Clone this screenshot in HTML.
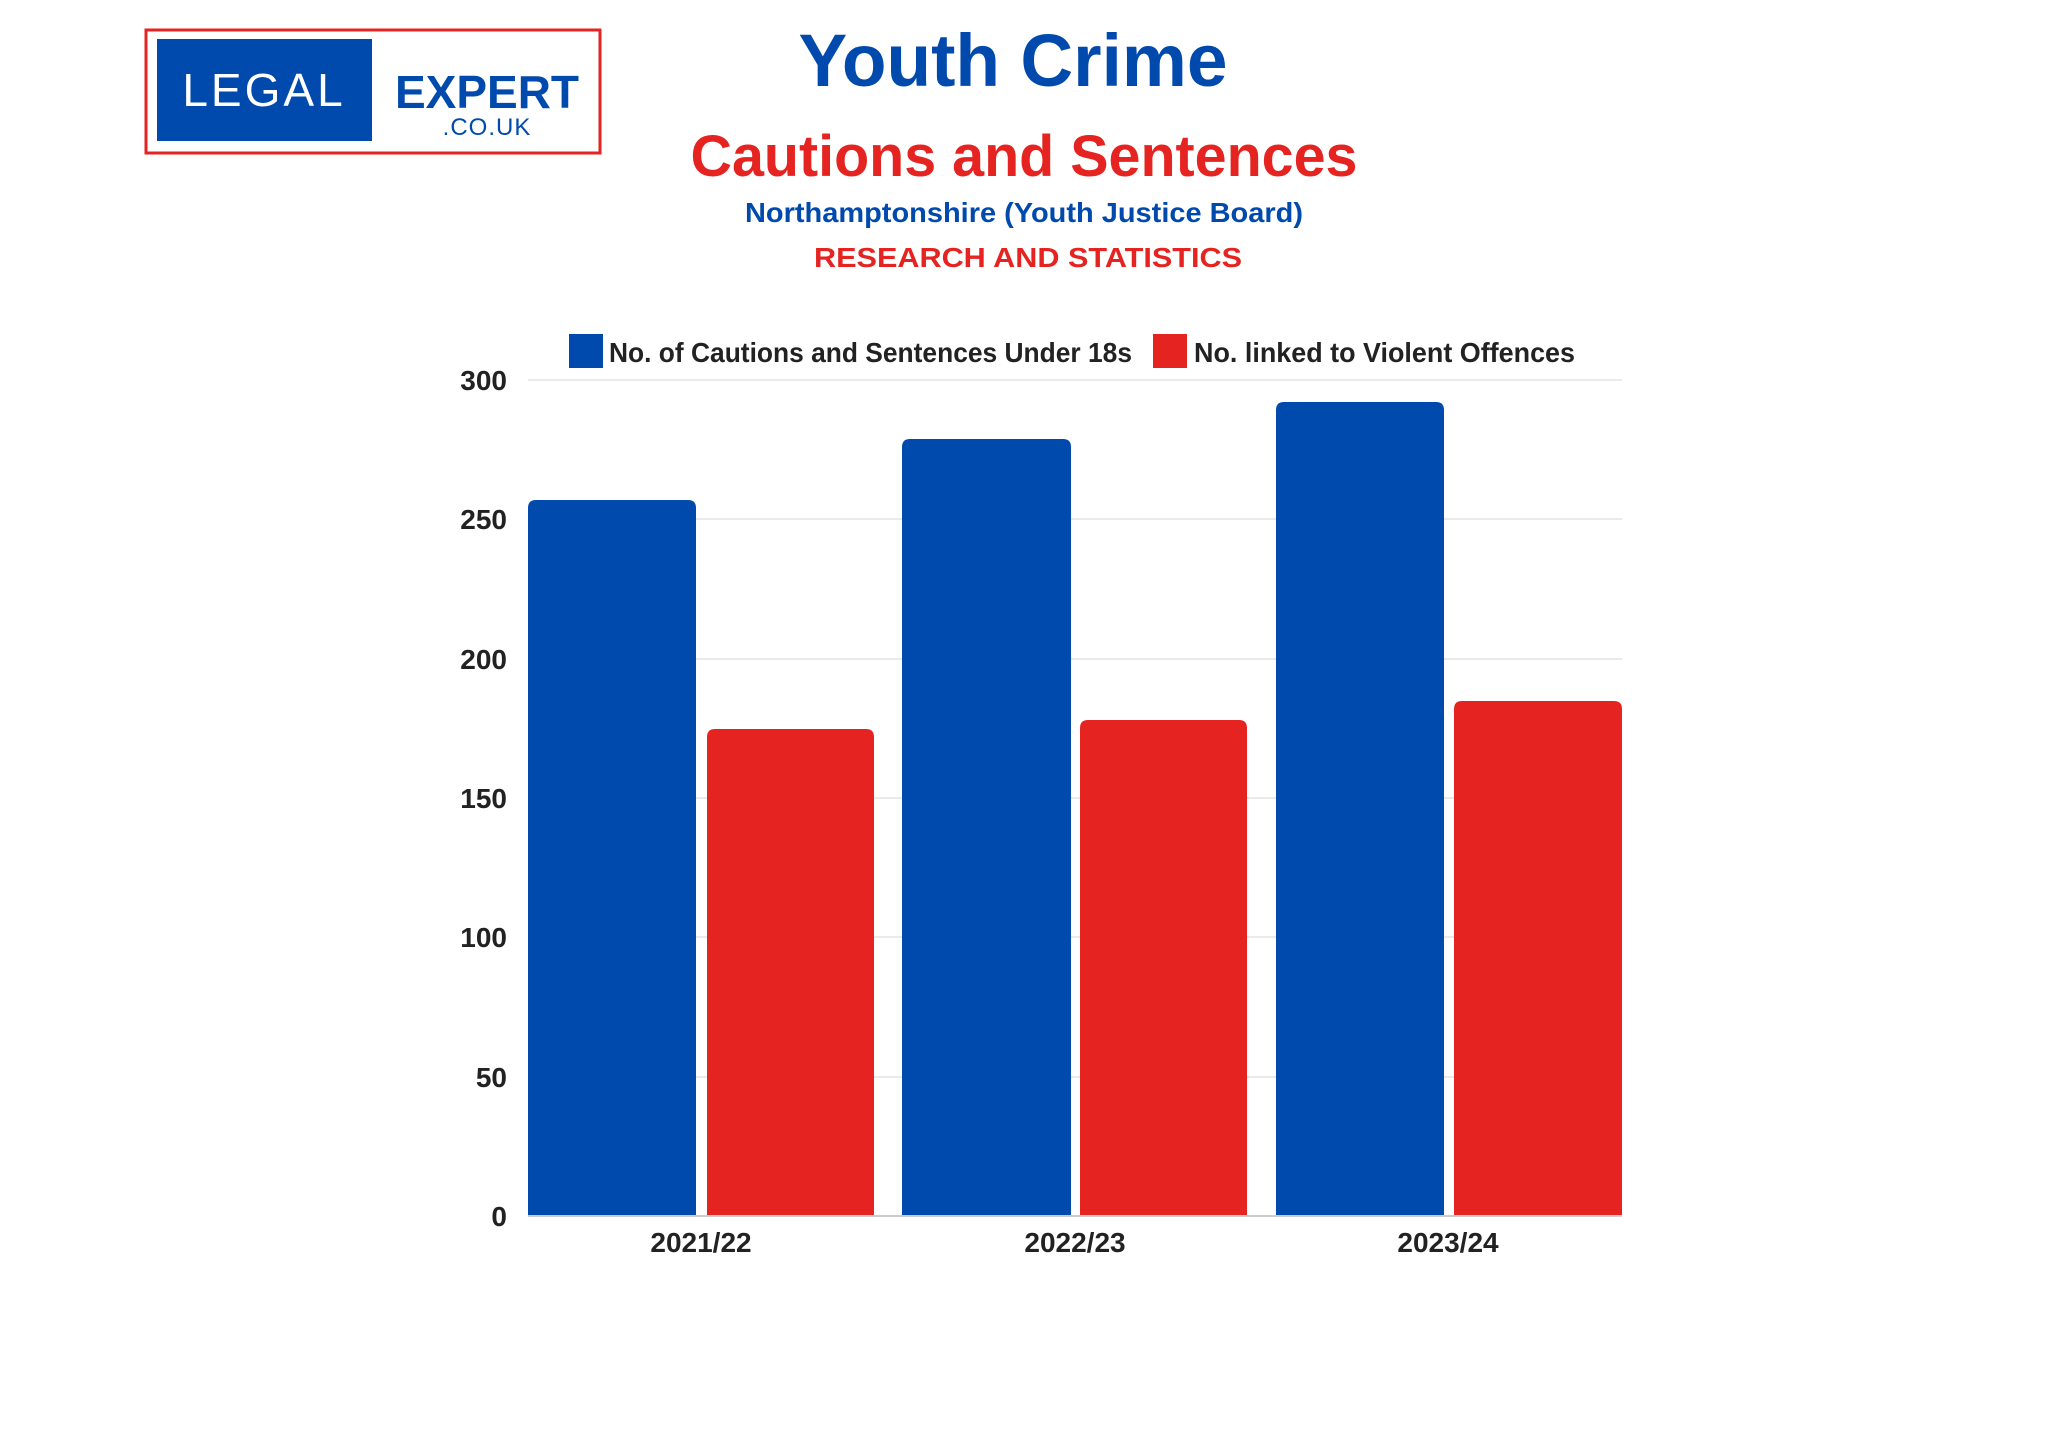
<!DOCTYPE html>
<html><head><meta charset="utf-8"><style>
html,body{margin:0;padding:0;background:#fff;}
svg{display:block;}
</style></head><body>
<svg width="2048" height="1434" viewBox="0 0 2048 1434" xmlns="http://www.w3.org/2000/svg" font-family="Liberation Sans, sans-serif">
<rect width="2048" height="1434" fill="#fff"/>
<!-- logo -->
<rect x="146" y="30" width="454" height="123" fill="#fff" stroke="#e52421" stroke-width="3"/>
<rect x="157" y="39" width="215" height="102" fill="#004aad"/>
<text x="264" y="106" font-size="46" fill="#fff" text-anchor="middle" letter-spacing="3">LEGAL</text>
<text x="487" y="108" font-size="46" font-weight="bold" fill="#004aad" text-anchor="middle">EXPERT</text>
<text x="487" y="135" font-size="24" fill="#004aad" text-anchor="middle" letter-spacing="1">.CO.UK</text>
<!-- titles -->
<text x="1013" y="86" font-size="74" font-weight="bold" fill="#004aad" text-anchor="middle" textLength="429" lengthAdjust="spacingAndGlyphs">Youth Crime</text>
<text x="1024" y="176" font-size="58" font-weight="bold" fill="#e52421" text-anchor="middle" textLength="667" lengthAdjust="spacingAndGlyphs">Cautions and Sentences</text>
<text x="1024" y="222" font-size="28" font-weight="bold" fill="#004aad" text-anchor="middle" textLength="558" lengthAdjust="spacingAndGlyphs">Northamptonshire (Youth Justice Board)</text>
<text x="1028" y="267" font-size="28" font-weight="bold" fill="#e52421" text-anchor="middle" textLength="428" lengthAdjust="spacingAndGlyphs">RESEARCH AND STATISTICS</text>
<!-- legend -->
<rect x="569" y="334" width="34" height="34" fill="#004aad"/>
<text x="609" y="362" font-size="28" font-weight="bold" fill="#222" textLength="523" lengthAdjust="spacingAndGlyphs">No. of Cautions and Sentences Under 18s</text>
<rect x="1153" y="334" width="34" height="34" fill="#e52421"/>
<text x="1194" y="362" font-size="28" font-weight="bold" fill="#222" textLength="381" lengthAdjust="spacingAndGlyphs">No. linked to Violent Offences</text>
<!-- grid -->
<g stroke="#e4e4e4" stroke-width="1.5">
<line x1="528" x2="1622" y1="380" y2="380"/>
<line x1="528" x2="1622" y1="519" y2="519"/>
<line x1="528" x2="1622" y1="659" y2="659"/>
<line x1="528" x2="1622" y1="798" y2="798"/>
<line x1="528" x2="1622" y1="937" y2="937"/>
<line x1="528" x2="1622" y1="1077" y2="1077"/>
</g>
<g font-size="28" font-weight="bold" fill="#222" text-anchor="end">
<text x="507" y="390">300</text>
<text x="507" y="529">250</text>
<text x="507" y="669">200</text>
<text x="507" y="808">150</text>
<text x="507" y="947">100</text>
<text x="507" y="1087">50</text>
<text x="507" y="1226">0</text>
</g>
<!-- bars -->
<g>
<path d="M528,1216 V508 q0,-8 8,-8 H688 q8,0 8,8 V1216 Z" fill="#004aad"/>
<path d="M707,1216 V737 q0,-8 8,-8 H866 q8,0 8,8 V1216 Z" fill="#e52421"/>
<path d="M902,1216 V447 q0,-8 8,-8 H1063 q8,0 8,8 V1216 Z" fill="#004aad"/>
<path d="M1080,1216 V728 q0,-8 8,-8 H1239 q8,0 8,8 V1216 Z" fill="#e52421"/>
<path d="M1276,1216 V410 q0,-8 8,-8 H1436 q8,0 8,8 V1216 Z" fill="#004aad"/>
<path d="M1454,1216 V709 q0,-8 8,-8 H1614 q8,0 8,8 V1216 Z" fill="#e52421"/>
</g>
<line x1="528" x2="1622" y1="1216" y2="1216" stroke="#ccc" stroke-width="2"/>
<g font-size="28" font-weight="bold" fill="#222" text-anchor="middle">
<text x="701" y="1252">2021/22</text>
<text x="1075" y="1252">2022/23</text>
<text x="1448" y="1252">2023/24</text>
</g>
</svg>
</body></html>
